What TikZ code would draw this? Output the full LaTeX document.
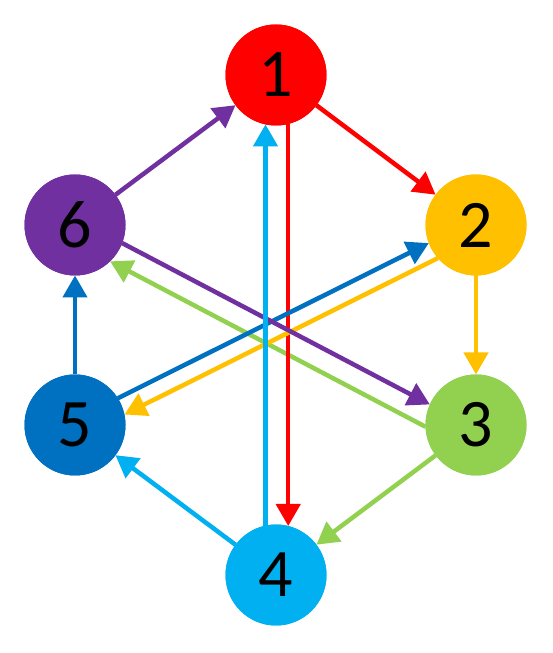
\documentclass[tikz,border=0pt]{standalone}
\usepackage{fontspec}
\setmainfont{Carlito}
\usetikzlibrary{arrows.meta}
\definecolor{cRed}{HTML}{FF0000}
\definecolor{cOrange}{HTML}{FFC000}
\definecolor{cGreen}{HTML}{92D050}
\definecolor{cLBlue}{HTML}{00B0F0}
\definecolor{cBlue}{HTML}{0070C0}
\definecolor{cPurple}{HTML}{7030A0}
\begin{document}
\begin{tikzpicture}[x=1pt,y=1pt,
  vnode/.style={circle,minimum size=101pt,inner sep=0pt,outer sep=0pt,fill=#1,
    font=\fontsize{68}{68}\selectfont},
  edge/.style={draw=#1,line width=4.5pt,-{Triangle[length=22pt,width=24pt]},fill=#1}]
\useasboundingbox (0,0) rectangle (553,653);
\node[vnode=cRed]    (n1) at (276,578) {1};
\node[vnode=cOrange] (n2) at (476,428) {2};
\node[vnode=cGreen]  (n3) at (476,228) {3};
\node[vnode=cLBlue]  (n4) at (276,78)  {4};
\node[vnode=cBlue]   (n5) at (75,228)  {5};
\node[vnode=cPurple] (n6) at (75,428)  {6};
% edges (bottom to top)
\draw[edge=cGreen] (n3) -- (n4);
\draw[edge=cGreen] (n3.182) -- (n6.-46);
\draw[edge=cRed] (n1) -- (n2);
\draw[edge=cRed] (n1.-76.3) -- (n4.76.3);
\draw[edge=cOrange] (n2) -- (n3);
\draw[edge=cOrange] (n2.221) -- (n5.12.5);
\draw[edge=cBlue] (n5) -- (n6);
\draw[edge=cBlue] (n5.32.6) -- (n2.201.7);
\draw[edge=cPurple] (n6) -- (n1);
\draw[edge=cPurple] (n6.-21) -- (n3.156);
\draw[edge=cLBlue] (n4) -- (n5);
\draw[edge=cLBlue] (n4.102.6) -- (n1.-102.6);
% nodes on top
\node[vnode=cRed]    at (n1) {1};
\node[vnode=cOrange] at (n2) {2};
\node[vnode=cGreen]  at (n3) {3};
\node[vnode=cLBlue]  at (n4) {4};
\node[vnode=cBlue]   at (n5) {5};
\node[vnode=cPurple] at (n6) {6};
\end{tikzpicture}
\end{document}
